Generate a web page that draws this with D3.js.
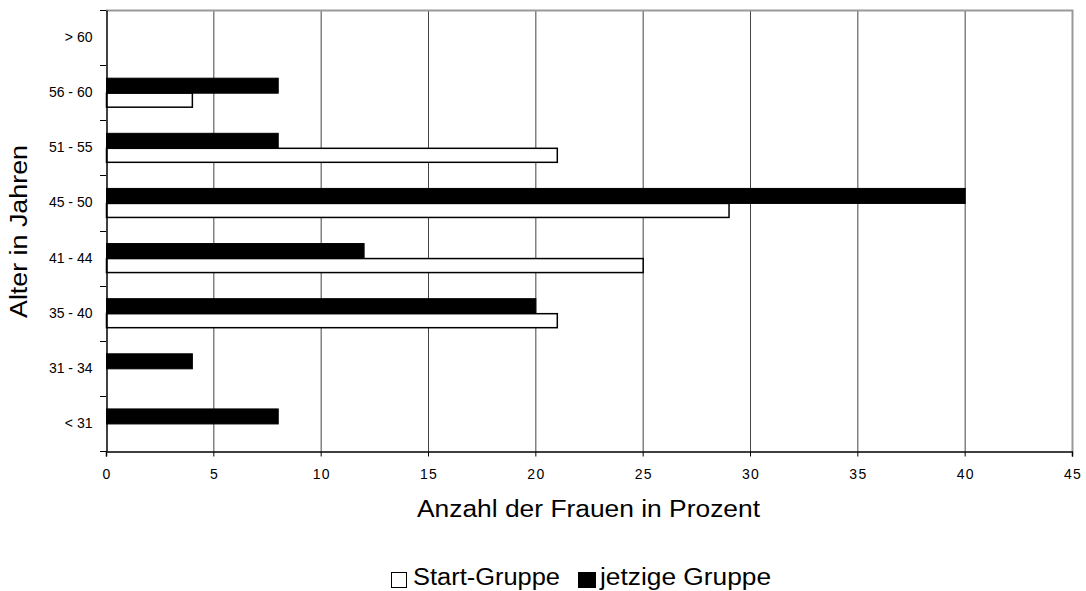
<!DOCTYPE html>
<html><head><meta charset="utf-8">
<script src="https://cdn.jsdelivr.net/npm/d3@7"></script>
<style>body{margin:0;background:#fff;} svg{display:block;font-family:"Liberation Sans",Arial,sans-serif;}</style>
</head><body>
<svg id="c" width="1086" height="591"></svg>
<script>
const categories = ["> 60","56 - 60","51 - 55","45 - 50","41 - 44","35 - 40","31 - 34","< 31"];
const startGruppe = [0,4,21,29,25,21,0,0];
const jetzigeGruppe = [0,8,8,40,12,20,4,8];
const seriesNames = ["Start-Gruppe","jetzige Gruppe"];
const xTicks = [0,5,10,15,20,25,30,35,40,45];

const svg = d3.select("#c");
const L=106, R=1072, T=10, B=451;
const x = d3.scaleLinear().domain([0,45]).range([L,R]);
const y = d3.scaleBand().domain(categories).range([T,B]);
const sub = d3.scaleBand().domain(["j","s"]).range([0,30]);
const off = (y.bandwidth()-30)/2;

// grid
svg.append("g").selectAll("line").data(xTicks.slice(1,-1)).join("line")
  .attr("x1",d=>x(d)+0.5).attr("x2",d=>x(d)+0.5).attr("y1",T).attr("y2",B)
  .attr("stroke","#444").attr("stroke-width",1);
// border top/right grey
svg.append("path").attr("d",`M${L},${T+0.5}H${R+0.5}V${B}`).attr("fill","none").attr("stroke","#999").attr("stroke-width",2);

// bars
const g = svg.append("g");
categories.forEach((c,i)=>{
  if(jetzigeGruppe[i]>0) g.append("rect").attr("x",x(0)+0.5).attr("y",y(c)+off+sub("j")+0.5)
    .attr("width",x(jetzigeGruppe[i])-x(0)).attr("height",sub.bandwidth())
    .attr("fill","#000").attr("stroke","#000");
  if(startGruppe[i]>0) g.append("rect").attr("x",x(0)+0.5).attr("y",y(c)+off+sub("s")+0.5)
    .attr("width",x(startGruppe[i])-x(0)).attr("height",sub.bandwidth()-1)
    .attr("fill","#fff").attr("stroke","#000").attr("stroke-width",1.5);
});

// x axis
const xa = svg.append("g").attr("transform",`translate(0,${B+0.5})`)
  .call(d3.axisBottom(x).tickValues(xTicks).tickSize(5).tickPadding(13));
xa.select(".domain").attr("stroke","#000").attr("stroke-width",1.5);
xa.selectAll("line").attr("stroke","#000");
xa.selectAll("text").attr("font-size","14px").attr("letter-spacing","1.3px").attr("dx","0.6px").attr("fill","#000").attr("font-family","Liberation Sans, Arial, sans-serif");

// y axis
const ya = svg.append("g").attr("transform",`translate(${L+0.5},0)`)
  .call(d3.axisLeft(y).tickSize(0).tickPadding(14));
ya.select(".domain").attr("stroke","#000").attr("stroke-width",1.5);
ya.selectAll("text").attr("font-size","14px").attr("fill","#000").attr("font-family","Liberation Sans, Arial, sans-serif");
// band boundary ticks
const bounds = categories.map(c=>y(c)).concat([B]);
svg.append("g").selectAll("line").data(bounds).join("line")
  .attr("x1",L-6).attr("x2",L).attr("y1",d=>Math.round(d)+0.5).attr("y2",d=>Math.round(d)+0.5)
  .attr("stroke","#000");

// axis titles
svg.append("text").attr("x",417).attr("y",517)
  .attr("font-size","23.5px").attr("textLength",343).attr("lengthAdjust","spacingAndGlyphs")
  .text("Anzahl der Frauen in Prozent");
svg.append("text").attr("transform",`translate(27,318) rotate(-90)`)
  .attr("font-size","23.5px").attr("textLength",173).attr("lengthAdjust","spacingAndGlyphs")
  .text("Alter in Jahren");

// legend
const lg = svg.append("g");
lg.append("rect").attr("x",391.5).attr("y",572.5).attr("width",15).attr("height",15).attr("fill","#fff").attr("stroke","#000");
lg.append("text").attr("x",413).attr("y",585).attr("font-size","23.5px")
  .attr("textLength",147).attr("lengthAdjust","spacingAndGlyphs").text(seriesNames[0]);
lg.append("rect").attr("x",578.5).attr("y",572.5).attr("width",17).attr("height",15).attr("fill","#000").attr("stroke","#000");
lg.append("text").attr("x",600).attr("y",585).attr("font-size","23.5px")
  .attr("textLength",171).attr("lengthAdjust","spacingAndGlyphs").text(seriesNames[1]);
</script>
</body></html>
